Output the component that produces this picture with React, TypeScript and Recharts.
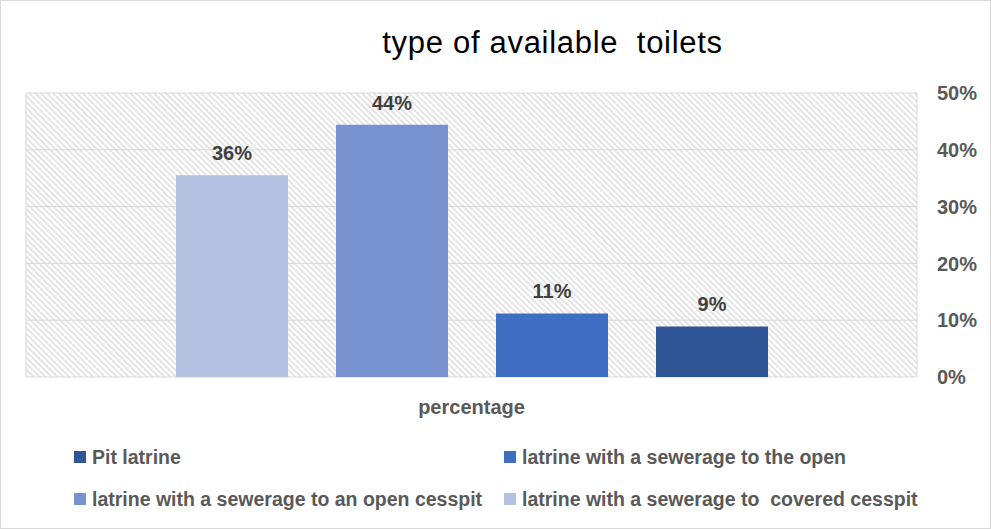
import React from "react";
import { BarChart, Bar, XAxis, YAxis, CartesianGrid, LabelList } from "recharts";

const categories = ["percentage"];
const seriesNames = [
  "latrine with a sewerage to  covered cesspit",
  "latrine with a sewerage to an open cesspit",
  "latrine with a sewerage to the open",
  "Pit latrine",
];
const coveredCesspit = [35.5];
const openCesspit = [44.4];
const toTheOpen = [11.2];
const pitLatrine = [8.9];
const yTicks = [0, 10, 20, 30, 40, 50];
const colors = ["#B4C1E1", "#7892D0", "#3F6DC1", "#2F5597"];
const legendOrder = [3, 2, 1, 0];

const seriesValues = [coveredCesspit, openCesspit, toTheOpen, pitLatrine];
const data = categories.map((c, i) => {
  const row: any = { name: c };
  seriesNames.forEach((s, k) => (row["s" + k] = seriesValues[k][i]));
  return row;
});

const FONT = "'Liberation Sans', Arial, sans-serif";
const GRAY = "#595959";

const LegendBox = () => (
  <div
    style={{
      position: "absolute",
      top: 446,
      left: 74,
      display: "grid",
      gridTemplateColumns: "430px 440px",
      rowGap: 20,
      fontFamily: FONT,
      fontWeight: "bold",
      fontSize: 19.5,
      color: GRAY,
    }}
  >
    {legendOrder.map((k) => (
      <div key={k} style={{ display: "flex", alignItems: "center", whiteSpace: "pre", height: 22 }}>
        <span style={{ width: 12, height: 12, background: colors[k], marginRight: 6, display: "inline-block" }} />
        {seriesNames[k]}
      </div>
    ))}
  </div>
);

export default function App() {
  return (
    <div style={{ position: "absolute", left: 0, top: 0, width: 991, height: 529, background: "#fff" }}>
      <div
        style={{
          position: "absolute",
          left: 0,
          top: 0,
          width: 989,
          height: 527,
          border: "1px solid #d9d9d9",
        }}
      />
      <div
        style={{
          position: "absolute",
          top: 25,
          left: 0,
          width: 1105,
          textAlign: "center",
          fontFamily: FONT,
          fontSize: 31,
          lineHeight: "36px",
          color: "#000",
          whiteSpace: "pre",
          letterSpacing: 0.7,
        }}
      >
        type of available  toilets
      </div>
      <BarChart
        width={991}
        height={529}
        data={data}
        margin={{ top: 93, right: 0, left: 26, bottom: 112 }}
        barSize={112}
        barGap={48}
        style={{ position: "absolute", left: 0, top: 0 }}
      >
        <defs>
          <pattern id="hatch" width="4.2" height="4.2" patternUnits="userSpaceOnUse" patternTransform="rotate(-45)">
            <line x1="1" y1="0" x2="1" y2="4.2" stroke="#e0e0e0" strokeWidth="1.7" />
          </pattern>
        </defs>
        <CartesianGrid
          fill="url(#hatch)"
          fillOpacity={1}
          stroke="#d9d9d9"
          verticalCoordinatesGenerator={({ offset }: any) => [offset.left, offset.left + offset.width]}
        />
        <XAxis
          dataKey="name"
          axisLine={false}
          tickLine={false}
          tickMargin={17}
          height={40}
          tick={{ fill: GRAY, fontFamily: FONT, fontWeight: "bold", fontSize: 20 }}
        />
        <YAxis
          orientation="right"
          domain={[0, 50]}
          ticks={yTicks}
          tickFormatter={(v: number) => v + "%"}
          axisLine={false}
          tickLine={false}
          tickMargin={14}
          width={74}
          tick={{ fill: GRAY, fontFamily: FONT, fontWeight: "bold", fontSize: 20, textAnchor: "start" }}
        />
        {seriesNames.map((s, k) => (
          <Bar key={k} dataKey={"s" + k} name={s} fill={colors[k]} isAnimationActive={false}>
            <LabelList
              dataKey={"s" + k}
              position="top"
              offset={15}
              formatter={(v: number) => Math.round(v) + "%"}
              style={{ fill: "#404040", fontFamily: FONT, fontWeight: "bold", fontSize: 20 }}
            />
          </Bar>
        ))}
      </BarChart>
      <LegendBox />
    </div>
  );
}
